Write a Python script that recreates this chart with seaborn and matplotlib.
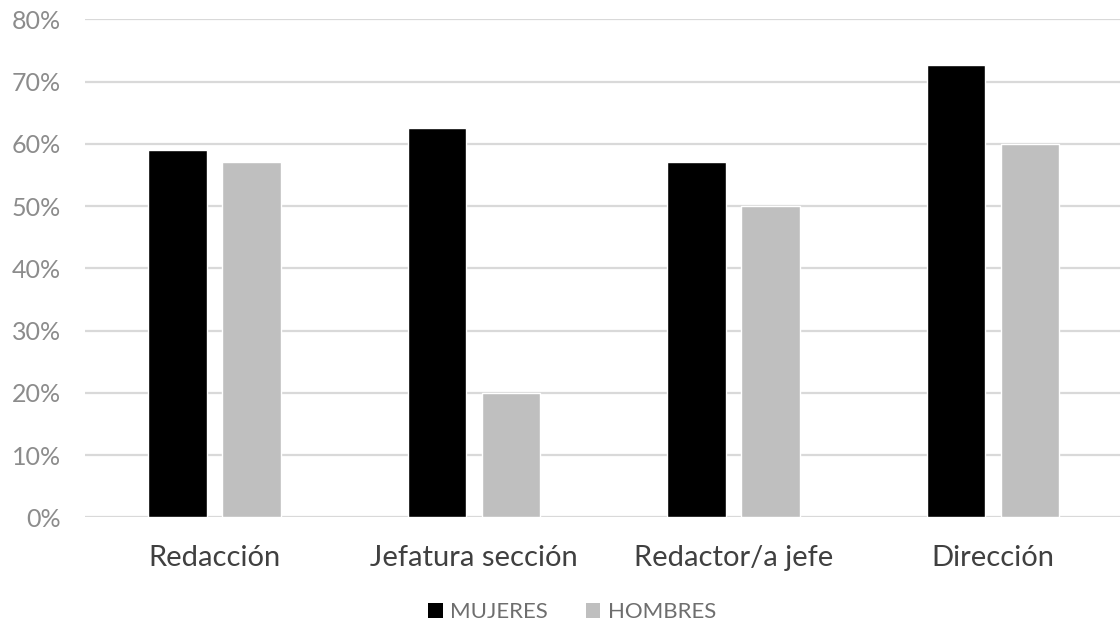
import matplotlib
matplotlib.use("Agg")
import matplotlib.pyplot as plt
from matplotlib.patches import Patch
from matplotlib.ticker import PercentFormatter
import seaborn as sns
import pandas as pd

categories = ["Redacción", "Jefatura sección", "Redactor/a jefe", "Dirección"]
mujeres = [0.591, 0.625, 0.571, 0.727]
hombres = [0.571, 0.200, 0.500, 0.600]
series_names = ["MUJERES", "HOMBRES"]
colors = ["#000000", "#bfbfbf"]

df = pd.DataFrame({
    "categoria": categories * 2,
    "grupo": [series_names[0]] * len(categories) + [series_names[1]] * len(categories),
    "valor": mujeres + hombres,
})

sns.set_theme(style="white")
plt.rcParams["font.family"] = ["Lato", "DejaVu Sans"]

fig = plt.figure(figsize=(11.2, 6.28), dpi=100)
ax = fig.add_axes([0.0757, 0.1763, 0.9268, 0.7927])

sns.barplot(data=df, x="categoria", y="valor", hue="grupo", order=categories,
            hue_order=series_names, palette=colors, width=0.572, gap=0.21,
            saturation=1, legend=False, ax=ax, zorder=3)

ax.set_ylim(0, 0.8)
ax.set_xlim(-0.5, len(categories) - 0.5)
ax.set_yticks([i / 10 for i in range(9)])
ax.yaxis.set_major_formatter(PercentFormatter(1.0, decimals=0))
ax.grid(axis="y", color="#d9d9d9", linewidth=1.6, zorder=0)
ax.set_axisbelow(True)
for s in ax.spines.values():
    s.set_visible(False)
ax.set_xlabel("")
ax.set_ylabel("")
ax.tick_params(axis="y", length=0, pad=17, labelsize=18, labelcolor="#8c8c8c")
ax.tick_params(axis="x", length=0, pad=20, labelsize=21, labelcolor="#404040")

handles = [Patch(facecolor=c, edgecolor="none") for c in colors]
fig.legend(handles, series_names, loc="center", bbox_to_anchor=(0.511, 0.025),
           ncol=2, frameon=False, labelcolor="#6e6e6e",
           handlelength=0.65, handleheight=0.65, handletextpad=0.35,
           columnspacing=1.7, prop={"size": 16})

fig.savefig("out.png", dpi=100)
